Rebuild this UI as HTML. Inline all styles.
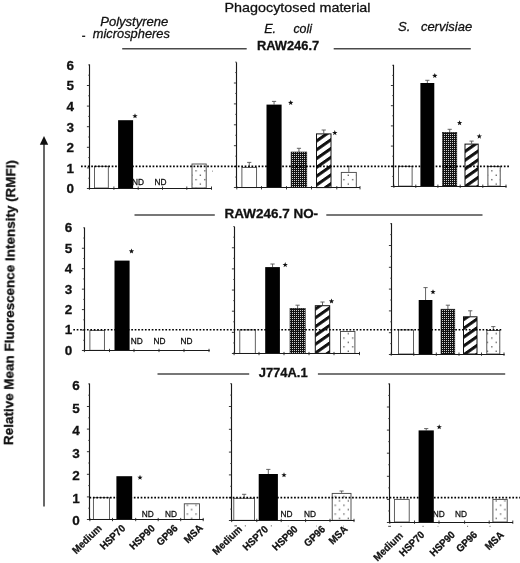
<!DOCTYPE html>
<html><head><meta charset="utf-8"><title>Figure</title>
<style>html,body{margin:0;padding:0;background:#fff;}svg{display:block;}text{font-family:"Liberation Sans",sans-serif;fill:#111;stroke:#111;stroke-width:0.28px;}</style>
</head><body>
<svg width="520" height="563" viewBox="0 0 520 563">
<defs>
<pattern id="p90" width="2" height="2" patternUnits="userSpaceOnUse"><rect width="2" height="2" fill="#111"/><rect x="0" y="0" width="1" height="1" fill="#d0d0d0" shape-rendering="crispEdges"/></pattern>
<pattern id="pgp" width="8" height="8.8" patternUnits="userSpaceOnUse" patternTransform="skewY(-35)"><rect width="8" height="8.8" fill="#fff"/><rect y="0" width="8" height="3.7" fill="#111"/></pattern>
<pattern id="pmsa" width="8.7" height="8.8" patternUnits="userSpaceOnUse"><rect width="8.7" height="8.8" fill="#fff"/><rect x="4" y="3" width="1.3" height="1.3" fill="#555"/><rect x="-0.35" y="7.4" width="1.3" height="1.3" fill="#555"/><rect x="8.35" y="7.4" width="1.3" height="1.3" fill="#555"/></pattern>
</defs>
<rect width="520" height="563" fill="#fff"/>
<g opacity="0.999">
<text x="224.5" y="12.1" font-size="13.2" font-weight="normal" font-style="normal" text-anchor="start" textLength="146" lengthAdjust="spacingAndGlyphs" >Phagocytosed material</text>
<text x="100.2" y="26.2" font-size="13" font-weight="normal" font-style="italic" text-anchor="start" textLength="68.1" lengthAdjust="spacingAndGlyphs" >Polystyrene</text>
<text x="92.8" y="38.3" font-size="13" font-weight="normal" font-style="italic" text-anchor="start" textLength="77.1" lengthAdjust="spacingAndGlyphs" >microspheres</text>
<rect x="82.1" y="35.6" width="3.1" height="1.4" fill="#222"/>
<text x="264.2" y="32.5" font-size="12.6" font-weight="normal" font-style="italic" text-anchor="start" >E.</text>
<text x="293.4" y="32.5" font-size="12.6" font-weight="normal" font-style="italic" text-anchor="start" textLength="18.6" lengthAdjust="spacingAndGlyphs" >coli</text>
<text x="398.1" y="30.8" font-size="13" font-weight="normal" font-style="italic" text-anchor="start" >S.</text>
<text x="420.9" y="30.8" font-size="13" font-weight="normal" font-style="italic" text-anchor="start" textLength="51.3" lengthAdjust="spacingAndGlyphs" >cervisiae</text>
<line x1="122.2" y1="48.85" x2="246.7" y2="48.85" stroke="#4a4a4a" stroke-width="1.5" />
<line x1="333.7" y1="48.85" x2="470.8" y2="48.85" stroke="#4a4a4a" stroke-width="1.5" />
<text x="256.9" y="49.8" font-size="12.5" font-weight="bold" font-style="normal" text-anchor="start" textLength="62.3" lengthAdjust="spacingAndGlyphs" >RAW246.7</text>
<line x1="134.5" y1="214.9" x2="214.8" y2="214.9" stroke="#4a4a4a" stroke-width="1.5" />
<line x1="326.3" y1="214.9" x2="482.5" y2="214.9" stroke="#4a4a4a" stroke-width="1.5" />
<text x="224.6" y="217.5" font-size="12.3" font-weight="bold" font-style="normal" text-anchor="start" textLength="93.5" lengthAdjust="spacingAndGlyphs" >RAW246.7 NO-</text>
<line x1="157.5" y1="374" x2="249.2" y2="374" stroke="#4a4a4a" stroke-width="1.5" />
<line x1="317.9" y1="374" x2="505.2" y2="374" stroke="#4a4a4a" stroke-width="1.5" />
<text x="258.7" y="377" font-size="12.3" font-weight="bold" font-style="normal" text-anchor="start" textLength="49" lengthAdjust="spacingAndGlyphs" >J774A.1</text>
<text transform="translate(12.9,445.1) rotate(-89.5)" font-size="12.6" font-weight="bold" textLength="285" lengthAdjust="spacingAndGlyphs">Relative Mean Fluorescence Intensity (RMFI)</text>
<line x1="44" y1="506.4" x2="44" y2="143" stroke="#686868" stroke-width="2" />
<polygon points="44,136 39.8,144.8 48.2,144.8" fill="#111"/>
<text x="74.1" y="193.15" font-size="13.5" font-weight="bold" font-style="normal" text-anchor="end" stroke="#111" stroke-width="0.2">0</text>
<text x="74.1" y="172.6" font-size="13.5" font-weight="bold" font-style="normal" text-anchor="end" stroke="#111" stroke-width="0.2">1</text>
<text x="74.1" y="152.05" font-size="13.5" font-weight="bold" font-style="normal" text-anchor="end" stroke="#111" stroke-width="0.2">2</text>
<text x="74.1" y="131.5" font-size="13.5" font-weight="bold" font-style="normal" text-anchor="end" stroke="#111" stroke-width="0.2">3</text>
<text x="74.1" y="110.95" font-size="13.5" font-weight="bold" font-style="normal" text-anchor="end" stroke="#111" stroke-width="0.2">4</text>
<text x="74.1" y="90.4" font-size="13.5" font-weight="bold" font-style="normal" text-anchor="end" stroke="#111" stroke-width="0.2">5</text>
<text x="74.1" y="69.85" font-size="13.5" font-weight="bold" font-style="normal" text-anchor="end" stroke="#111" stroke-width="0.2">6</text>
<rect x="94.50" y="166.30" width="13.80" height="21.70" fill="#fff" stroke="#444" stroke-width="0.85"/>
<rect x="118.10" y="120.20" width="15.00" height="67.80" fill="#000"/>
<rect x="192.00" y="164.00" width="14.20" height="24.00" fill="url(#pmsa)" stroke="#444" stroke-width="0.9"/>
<line x1="89.5" y1="64.4" x2="89.5" y2="189.0" stroke="#1a1a1a" stroke-width="1.15" />
<line x1="89.0" y1="188.5" x2="212" y2="188.5" stroke="#1a1a1a" stroke-width="1.15" />
<line x1="86.9" y1="188.5" x2="89.5" y2="188.5" stroke="#222" stroke-width="0.9" />
<line x1="86.9" y1="167.9" x2="89.5" y2="167.9" stroke="#222" stroke-width="0.9" />
<line x1="86.9" y1="147.3" x2="89.5" y2="147.3" stroke="#222" stroke-width="0.9" />
<line x1="86.9" y1="126.69999999999999" x2="89.5" y2="126.69999999999999" stroke="#222" stroke-width="0.9" />
<line x1="86.9" y1="106.1" x2="89.5" y2="106.1" stroke="#222" stroke-width="0.9" />
<line x1="86.9" y1="85.5" x2="89.5" y2="85.5" stroke="#222" stroke-width="0.9" />
<line x1="88.3" y1="64.89999999999999" x2="89.5" y2="64.89999999999999" stroke="#222" stroke-width="0.9" />
<line x1="88.1" y1="178.2" x2="89.5" y2="178.2" stroke="#444" stroke-width="0.8" />
<line x1="88.1" y1="157.6" x2="89.5" y2="157.6" stroke="#444" stroke-width="0.8" />
<line x1="88.1" y1="137.0" x2="89.5" y2="137.0" stroke="#444" stroke-width="0.8" />
<line x1="88.1" y1="116.39999999999999" x2="89.5" y2="116.39999999999999" stroke="#444" stroke-width="0.8" />
<line x1="88.1" y1="95.8" x2="89.5" y2="95.8" stroke="#444" stroke-width="0.8" />
<line x1="88.1" y1="75.19999999999999" x2="89.5" y2="75.19999999999999" stroke="#444" stroke-width="0.8" />
<line x1="89.4" y1="186.5" x2="89.4" y2="189.8" stroke="#222" stroke-width="0.9" />
<line x1="113.9" y1="186.5" x2="113.9" y2="189.8" stroke="#222" stroke-width="0.9" />
<line x1="138.2" y1="186.5" x2="138.2" y2="189.8" stroke="#222" stroke-width="0.9" />
<line x1="162.5" y1="186.5" x2="162.5" y2="189.8" stroke="#222" stroke-width="0.9" />
<line x1="186.8" y1="186.5" x2="186.8" y2="189.8" stroke="#222" stroke-width="0.9" />
<line x1="211.5" y1="186.5" x2="211.5" y2="189.8" stroke="#222" stroke-width="0.9" />
<text x="132.0" y="184.5" font-size="8.6" font-weight="normal" font-style="normal" text-anchor="start" textLength="12" lengthAdjust="spacingAndGlyphs" >ND</text>
<text x="154.5" y="184.5" font-size="8.6" font-weight="normal" font-style="normal" text-anchor="start" textLength="12" lengthAdjust="spacingAndGlyphs" >ND</text>
<polygon points="135.00,113.30 135.68,115.17 137.66,115.23 136.09,116.46 136.65,118.37 135.00,117.25 133.35,118.37 133.91,116.46 132.34,115.23 134.32,115.17" fill="#111"/>
<line x1="249.25" y1="166.9" x2="249.25" y2="162.4" stroke="#555" stroke-width="0.9" />
<line x1="247.15" y1="162.4" x2="251.35" y2="162.4" stroke="#555" stroke-width="0.9" />
<rect x="241.90" y="167.40" width="14.70" height="20.20" fill="#fff" stroke="#444" stroke-width="0.85"/>
<line x1="274.05" y1="104.6" x2="274.05" y2="101.4" stroke="#555" stroke-width="0.9" />
<line x1="271.95" y1="101.4" x2="276.15000000000003" y2="101.4" stroke="#555" stroke-width="0.9" />
<rect x="266.50" y="104.60" width="15.10" height="83.00" fill="#000"/>
<line x1="298.95000000000005" y1="152" x2="298.95000000000005" y2="148.3" stroke="#555" stroke-width="0.9" />
<line x1="296.85" y1="148.3" x2="301.05000000000007" y2="148.3" stroke="#555" stroke-width="0.9" />
<rect x="291.10" y="152.00" width="15.70" height="35.60" fill="url(#p90)" stroke="#111" stroke-width="0.6"/>
<line x1="323.75" y1="133.4" x2="323.75" y2="130" stroke="#555" stroke-width="0.9" />
<line x1="321.65" y1="130" x2="325.85" y2="130" stroke="#555" stroke-width="0.9" />
<rect x="316.50" y="133.90" width="14.50" height="53.70" fill="url(#pgp)" stroke="#111" stroke-width="1"/>
<line x1="348.8" y1="171.9" x2="348.8" y2="166.2" stroke="#555" stroke-width="0.9" />
<line x1="346.7" y1="166.2" x2="350.90000000000003" y2="166.2" stroke="#555" stroke-width="0.9" />
<rect x="341.30" y="172.40" width="15.00" height="15.20" fill="url(#pmsa)" stroke="#444" stroke-width="0.9"/>
<line x1="236.5" y1="62.3" x2="236.5" y2="188.0" stroke="#1a1a1a" stroke-width="1.15" />
<line x1="236.0" y1="187.5" x2="360" y2="187.5" stroke="#1a1a1a" stroke-width="1.15" />
<line x1="233.9" y1="187.5" x2="236.5" y2="187.5" stroke="#222" stroke-width="0.9" />
<line x1="233.9" y1="166.6" x2="236.5" y2="166.6" stroke="#222" stroke-width="0.9" />
<line x1="233.9" y1="145.7" x2="236.5" y2="145.7" stroke="#222" stroke-width="0.9" />
<line x1="233.9" y1="124.80000000000001" x2="236.5" y2="124.80000000000001" stroke="#222" stroke-width="0.9" />
<line x1="233.9" y1="103.9" x2="236.5" y2="103.9" stroke="#222" stroke-width="0.9" />
<line x1="233.9" y1="83.0" x2="236.5" y2="83.0" stroke="#222" stroke-width="0.9" />
<line x1="235.3" y1="62.10000000000001" x2="236.5" y2="62.10000000000001" stroke="#222" stroke-width="0.9" />
<line x1="235.1" y1="177.05" x2="236.5" y2="177.05" stroke="#444" stroke-width="0.8" />
<line x1="235.1" y1="156.15" x2="236.5" y2="156.15" stroke="#444" stroke-width="0.8" />
<line x1="235.1" y1="135.25" x2="236.5" y2="135.25" stroke="#444" stroke-width="0.8" />
<line x1="235.1" y1="114.35000000000001" x2="236.5" y2="114.35000000000001" stroke="#444" stroke-width="0.8" />
<line x1="235.1" y1="93.45" x2="236.5" y2="93.45" stroke="#444" stroke-width="0.8" />
<line x1="235.1" y1="72.55000000000001" x2="236.5" y2="72.55000000000001" stroke="#444" stroke-width="0.8" />
<line x1="236.8" y1="186.1" x2="236.8" y2="189.4" stroke="#222" stroke-width="0.9" />
<line x1="261.5" y1="186.1" x2="261.5" y2="189.4" stroke="#222" stroke-width="0.9" />
<line x1="286.5" y1="186.1" x2="286.5" y2="189.4" stroke="#222" stroke-width="0.9" />
<line x1="311.5" y1="186.1" x2="311.5" y2="189.4" stroke="#222" stroke-width="0.9" />
<line x1="336.8" y1="186.1" x2="336.8" y2="189.4" stroke="#222" stroke-width="0.9" />
<line x1="360" y1="186.1" x2="360" y2="189.4" stroke="#222" stroke-width="0.9" />
<polygon points="290.70,100.00 291.38,101.87 293.36,101.93 291.79,103.16 292.35,105.07 290.70,103.95 289.05,105.07 289.61,103.16 288.04,101.93 290.02,101.87" fill="#111"/>
<polygon points="334.80,130.10 335.48,131.97 337.46,132.03 335.89,133.26 336.45,135.17 334.80,134.05 333.15,135.17 333.71,133.26 332.14,132.03 334.12,131.97" fill="#111"/>
<rect x="398.50" y="166.30" width="13.60" height="19.80" fill="#fff" stroke="#444" stroke-width="0.85"/>
<line x1="427.35" y1="83" x2="427.35" y2="80.3" stroke="#555" stroke-width="0.9" />
<line x1="425.25" y1="80.3" x2="429.45000000000005" y2="80.3" stroke="#555" stroke-width="0.9" />
<rect x="420.40" y="83.00" width="13.90" height="103.10" fill="#000"/>
<line x1="449.70000000000005" y1="132.4" x2="449.70000000000005" y2="129.3" stroke="#555" stroke-width="0.9" />
<line x1="447.6" y1="129.3" x2="451.80000000000007" y2="129.3" stroke="#555" stroke-width="0.9" />
<rect x="442.60" y="132.40" width="14.20" height="53.70" fill="url(#p90)" stroke="#111" stroke-width="0.6"/>
<line x1="471.6" y1="143.6" x2="471.6" y2="141.1" stroke="#555" stroke-width="0.9" />
<line x1="469.5" y1="141.1" x2="473.70000000000005" y2="141.1" stroke="#555" stroke-width="0.9" />
<rect x="465.00" y="144.10" width="13.20" height="42.00" fill="url(#pgp)" stroke="#111" stroke-width="1"/>
<rect x="487.90" y="166.40" width="12.30" height="19.70" fill="url(#pmsa)" stroke="#444" stroke-width="0.9"/>
<line x1="393.5" y1="64.8" x2="393.5" y2="187.0" stroke="#1a1a1a" stroke-width="1.15" />
<line x1="393.0" y1="186.5" x2="506.5" y2="186.5" stroke="#1a1a1a" stroke-width="1.15" />
<line x1="390.9" y1="186.5" x2="393.5" y2="186.5" stroke="#222" stroke-width="0.9" />
<line x1="390.9" y1="166.3" x2="393.5" y2="166.3" stroke="#222" stroke-width="0.9" />
<line x1="390.9" y1="146.1" x2="393.5" y2="146.1" stroke="#222" stroke-width="0.9" />
<line x1="390.9" y1="125.9" x2="393.5" y2="125.9" stroke="#222" stroke-width="0.9" />
<line x1="390.9" y1="105.7" x2="393.5" y2="105.7" stroke="#222" stroke-width="0.9" />
<line x1="390.9" y1="85.5" x2="393.5" y2="85.5" stroke="#222" stroke-width="0.9" />
<line x1="392.3" y1="65.30000000000001" x2="393.5" y2="65.30000000000001" stroke="#222" stroke-width="0.9" />
<line x1="392.1" y1="176.4" x2="393.5" y2="176.4" stroke="#444" stroke-width="0.8" />
<line x1="392.1" y1="156.2" x2="393.5" y2="156.2" stroke="#444" stroke-width="0.8" />
<line x1="392.1" y1="136.0" x2="393.5" y2="136.0" stroke="#444" stroke-width="0.8" />
<line x1="392.1" y1="115.8" x2="393.5" y2="115.8" stroke="#444" stroke-width="0.8" />
<line x1="392.1" y1="95.60000000000001" x2="393.5" y2="95.60000000000001" stroke="#444" stroke-width="0.8" />
<line x1="392.1" y1="75.4" x2="393.5" y2="75.4" stroke="#444" stroke-width="0.8" />
<line x1="393.9" y1="184.6" x2="393.9" y2="187.9" stroke="#222" stroke-width="0.9" />
<line x1="415.8" y1="184.6" x2="415.8" y2="187.9" stroke="#222" stroke-width="0.9" />
<line x1="437.9" y1="184.6" x2="437.9" y2="187.9" stroke="#222" stroke-width="0.9" />
<line x1="460.2" y1="184.6" x2="460.2" y2="187.9" stroke="#222" stroke-width="0.9" />
<line x1="482.8" y1="184.6" x2="482.8" y2="187.9" stroke="#222" stroke-width="0.9" />
<line x1="506" y1="184.6" x2="506" y2="187.9" stroke="#222" stroke-width="0.9" />
<polygon points="434.80,73.00 435.48,74.87 437.46,74.93 435.89,76.16 436.45,78.07 434.80,76.95 433.15,78.07 433.71,76.16 432.14,74.93 434.12,74.87" fill="#111"/>
<polygon points="459.60,120.20 460.28,122.07 462.26,122.13 460.69,123.36 461.25,125.27 459.60,124.15 457.95,125.27 458.51,123.36 456.94,122.13 458.92,122.07" fill="#111"/>
<polygon points="479.30,133.60 479.98,135.47 481.96,135.53 480.39,136.76 480.95,138.67 479.30,137.55 477.65,138.67 478.21,136.76 476.64,135.53 478.62,135.47" fill="#111"/>
<line x1="81" y1="166.35" x2="510.6" y2="166.35" stroke="#000" stroke-width="1.6" stroke-dasharray="1.7 1.71"/>
<text x="72.3" y="354.75" font-size="13.5" font-weight="bold" font-style="normal" text-anchor="end" stroke="#111" stroke-width="0.2">0</text>
<text x="72.3" y="334.35" font-size="13.5" font-weight="bold" font-style="normal" text-anchor="end" stroke="#111" stroke-width="0.2">1</text>
<text x="72.3" y="313.95" font-size="13.5" font-weight="bold" font-style="normal" text-anchor="end" stroke="#111" stroke-width="0.2">2</text>
<text x="72.3" y="293.55" font-size="13.5" font-weight="bold" font-style="normal" text-anchor="end" stroke="#111" stroke-width="0.2">3</text>
<text x="72.3" y="273.15" font-size="13.5" font-weight="bold" font-style="normal" text-anchor="end" stroke="#111" stroke-width="0.2">4</text>
<text x="72.3" y="252.74999999999997" font-size="13.5" font-weight="bold" font-style="normal" text-anchor="end" stroke="#111" stroke-width="0.2">5</text>
<text x="72.3" y="232.35" font-size="13.5" font-weight="bold" font-style="normal" text-anchor="end" stroke="#111" stroke-width="0.2">6</text>
<rect x="89.90" y="330.40" width="14.50" height="19.90" fill="#fff" stroke="#444" stroke-width="0.85"/>
<rect x="114.50" y="260.60" width="15.10" height="89.70" fill="#000"/>
<line x1="84.5" y1="227.5" x2="84.5" y2="351.0" stroke="#1a1a1a" stroke-width="1.15" />
<line x1="84.0" y1="350.5" x2="209.7" y2="350.5" stroke="#1a1a1a" stroke-width="1.15" />
<line x1="81.9" y1="350.5" x2="84.5" y2="350.5" stroke="#222" stroke-width="0.9" />
<line x1="81.9" y1="330.05" x2="84.5" y2="330.05" stroke="#222" stroke-width="0.9" />
<line x1="81.9" y1="309.6" x2="84.5" y2="309.6" stroke="#222" stroke-width="0.9" />
<line x1="81.9" y1="289.15" x2="84.5" y2="289.15" stroke="#222" stroke-width="0.9" />
<line x1="81.9" y1="268.7" x2="84.5" y2="268.7" stroke="#222" stroke-width="0.9" />
<line x1="81.9" y1="248.25" x2="84.5" y2="248.25" stroke="#222" stroke-width="0.9" />
<line x1="83.3" y1="227.8" x2="84.5" y2="227.8" stroke="#222" stroke-width="0.9" />
<line x1="83.1" y1="340.275" x2="84.5" y2="340.275" stroke="#444" stroke-width="0.8" />
<line x1="83.1" y1="319.825" x2="84.5" y2="319.825" stroke="#444" stroke-width="0.8" />
<line x1="83.1" y1="299.375" x2="84.5" y2="299.375" stroke="#444" stroke-width="0.8" />
<line x1="83.1" y1="278.925" x2="84.5" y2="278.925" stroke="#444" stroke-width="0.8" />
<line x1="83.1" y1="258.475" x2="84.5" y2="258.475" stroke="#444" stroke-width="0.8" />
<line x1="83.1" y1="238.025" x2="84.5" y2="238.025" stroke="#444" stroke-width="0.8" />
<line x1="84.4" y1="348.8" x2="84.4" y2="352.1" stroke="#222" stroke-width="0.9" />
<line x1="109.5" y1="348.8" x2="109.5" y2="352.1" stroke="#222" stroke-width="0.9" />
<line x1="134" y1="348.8" x2="134" y2="352.1" stroke="#222" stroke-width="0.9" />
<line x1="159" y1="348.8" x2="159" y2="352.1" stroke="#222" stroke-width="0.9" />
<line x1="184" y1="348.8" x2="184" y2="352.1" stroke="#222" stroke-width="0.9" />
<line x1="209" y1="348.8" x2="209" y2="352.1" stroke="#222" stroke-width="0.9" />
<text x="130.8" y="344" font-size="8.6" font-weight="normal" font-style="normal" text-anchor="start" textLength="12" lengthAdjust="spacingAndGlyphs" >ND</text>
<text x="153.5" y="344" font-size="8.6" font-weight="normal" font-style="normal" text-anchor="start" textLength="12" lengthAdjust="spacingAndGlyphs" >ND</text>
<text x="180.5" y="344" font-size="8.6" font-weight="normal" font-style="normal" text-anchor="start" textLength="12" lengthAdjust="spacingAndGlyphs" >ND</text>
<polygon points="131.50,248.50 132.18,250.37 134.16,250.43 132.59,251.66 133.15,253.57 131.50,252.45 129.85,253.57 130.41,251.66 128.84,250.43 130.82,250.37" fill="#111"/>
<rect x="239.80" y="329.90" width="15.50" height="23.50" fill="#fff" stroke="#444" stroke-width="0.85"/>
<line x1="272.54999999999995" y1="267.1" x2="272.54999999999995" y2="264" stroke="#555" stroke-width="0.9" />
<line x1="270.44999999999993" y1="264" x2="274.65" y2="264" stroke="#555" stroke-width="0.9" />
<rect x="265.20" y="267.10" width="14.70" height="86.30" fill="#000"/>
<line x1="297.6" y1="308.3" x2="297.6" y2="305.2" stroke="#555" stroke-width="0.9" />
<line x1="295.5" y1="305.2" x2="299.70000000000005" y2="305.2" stroke="#555" stroke-width="0.9" />
<rect x="290.00" y="308.30" width="15.20" height="45.10" fill="url(#p90)" stroke="#111" stroke-width="0.6"/>
<line x1="322.5" y1="305.2" x2="322.5" y2="302" stroke="#555" stroke-width="0.9" />
<line x1="320.4" y1="302" x2="324.6" y2="302" stroke="#555" stroke-width="0.9" />
<rect x="315.30" y="305.70" width="14.40" height="47.70" fill="url(#pgp)" stroke="#111" stroke-width="1"/>
<rect x="340.50" y="331.50" width="14.40" height="21.90" fill="url(#pmsa)" stroke="#444" stroke-width="0.9"/>
<line x1="234.5" y1="226.6" x2="234.5" y2="354.0" stroke="#1a1a1a" stroke-width="1.15" />
<line x1="234.0" y1="353.5" x2="360" y2="353.5" stroke="#1a1a1a" stroke-width="1.15" />
<line x1="231.9" y1="353.5" x2="234.5" y2="353.5" stroke="#222" stroke-width="0.9" />
<line x1="231.9" y1="332.35" x2="234.5" y2="332.35" stroke="#222" stroke-width="0.9" />
<line x1="231.9" y1="311.2" x2="234.5" y2="311.2" stroke="#222" stroke-width="0.9" />
<line x1="231.9" y1="290.05" x2="234.5" y2="290.05" stroke="#222" stroke-width="0.9" />
<line x1="231.9" y1="268.9" x2="234.5" y2="268.9" stroke="#222" stroke-width="0.9" />
<line x1="231.9" y1="247.75" x2="234.5" y2="247.75" stroke="#222" stroke-width="0.9" />
<line x1="233.3" y1="226.60000000000002" x2="234.5" y2="226.60000000000002" stroke="#222" stroke-width="0.9" />
<line x1="233.1" y1="342.925" x2="234.5" y2="342.925" stroke="#444" stroke-width="0.8" />
<line x1="233.1" y1="321.775" x2="234.5" y2="321.775" stroke="#444" stroke-width="0.8" />
<line x1="233.1" y1="300.625" x2="234.5" y2="300.625" stroke="#444" stroke-width="0.8" />
<line x1="233.1" y1="279.475" x2="234.5" y2="279.475" stroke="#444" stroke-width="0.8" />
<line x1="233.1" y1="258.325" x2="234.5" y2="258.325" stroke="#444" stroke-width="0.8" />
<line x1="233.1" y1="237.175" x2="234.5" y2="237.175" stroke="#444" stroke-width="0.8" />
<line x1="234.1" y1="351.9" x2="234.1" y2="355.2" stroke="#222" stroke-width="0.9" />
<line x1="259" y1="351.9" x2="259" y2="355.2" stroke="#222" stroke-width="0.9" />
<line x1="284" y1="351.9" x2="284" y2="355.2" stroke="#222" stroke-width="0.9" />
<line x1="309" y1="351.9" x2="309" y2="355.2" stroke="#222" stroke-width="0.9" />
<line x1="334" y1="351.9" x2="334" y2="355.2" stroke="#222" stroke-width="0.9" />
<line x1="359.5" y1="351.9" x2="359.5" y2="355.2" stroke="#222" stroke-width="0.9" />
<polygon points="285.20,262.10 285.88,263.97 287.86,264.03 286.29,265.26 286.85,267.17 285.20,266.05 283.55,267.17 284.11,265.26 282.54,264.03 284.52,263.97" fill="#111"/>
<polygon points="331.50,298.50 332.18,300.37 334.16,300.43 332.59,301.66 333.15,303.57 331.50,302.45 329.85,303.57 330.41,301.66 328.84,300.43 330.82,300.37" fill="#111"/>
<rect x="398.50" y="329.90" width="15.00" height="24.10" fill="#fff" stroke="#444" stroke-width="0.85"/>
<line x1="425.54999999999995" y1="300" x2="425.54999999999995" y2="287.6" stroke="#555" stroke-width="0.9" />
<line x1="423.44999999999993" y1="287.6" x2="427.65" y2="287.6" stroke="#555" stroke-width="0.9" />
<rect x="418.70" y="300.00" width="13.70" height="54.00" fill="#000"/>
<line x1="447.9" y1="309.2" x2="447.9" y2="305.2" stroke="#555" stroke-width="0.9" />
<line x1="445.79999999999995" y1="305.2" x2="450.0" y2="305.2" stroke="#555" stroke-width="0.9" />
<rect x="441.00" y="309.20" width="13.80" height="44.80" fill="url(#p90)" stroke="#111" stroke-width="0.6"/>
<line x1="470.25" y1="316.3" x2="470.25" y2="310.8" stroke="#555" stroke-width="0.9" />
<line x1="468.15" y1="310.8" x2="472.35" y2="310.8" stroke="#555" stroke-width="0.9" />
<rect x="463.50" y="316.80" width="13.50" height="37.20" fill="url(#pgp)" stroke="#111" stroke-width="1"/>
<line x1="493.3" y1="330" x2="493.3" y2="326.6" stroke="#555" stroke-width="0.9" />
<line x1="491.2" y1="326.6" x2="495.40000000000003" y2="326.6" stroke="#555" stroke-width="0.9" />
<rect x="486.80" y="330.50" width="13.00" height="23.50" fill="url(#pmsa)" stroke="#444" stroke-width="0.9"/>
<line x1="391.5" y1="223.2" x2="391.5" y2="355.0" stroke="#1a1a1a" stroke-width="1.15" />
<line x1="391.0" y1="354.5" x2="504.6" y2="354.5" stroke="#1a1a1a" stroke-width="1.15" />
<line x1="388.9" y1="354.5" x2="391.5" y2="354.5" stroke="#222" stroke-width="0.9" />
<line x1="388.9" y1="332.7" x2="391.5" y2="332.7" stroke="#222" stroke-width="0.9" />
<line x1="388.9" y1="310.9" x2="391.5" y2="310.9" stroke="#222" stroke-width="0.9" />
<line x1="388.9" y1="289.1" x2="391.5" y2="289.1" stroke="#222" stroke-width="0.9" />
<line x1="388.9" y1="267.3" x2="391.5" y2="267.3" stroke="#222" stroke-width="0.9" />
<line x1="388.9" y1="245.5" x2="391.5" y2="245.5" stroke="#222" stroke-width="0.9" />
<line x1="390.3" y1="223.7" x2="391.5" y2="223.7" stroke="#222" stroke-width="0.9" />
<line x1="390.1" y1="343.6" x2="391.5" y2="343.6" stroke="#444" stroke-width="0.8" />
<line x1="390.1" y1="321.8" x2="391.5" y2="321.8" stroke="#444" stroke-width="0.8" />
<line x1="390.1" y1="300.0" x2="391.5" y2="300.0" stroke="#444" stroke-width="0.8" />
<line x1="390.1" y1="278.2" x2="391.5" y2="278.2" stroke="#444" stroke-width="0.8" />
<line x1="390.1" y1="256.4" x2="391.5" y2="256.4" stroke="#444" stroke-width="0.8" />
<line x1="390.1" y1="234.6" x2="391.5" y2="234.6" stroke="#444" stroke-width="0.8" />
<line x1="391.2" y1="352.5" x2="391.2" y2="355.8" stroke="#222" stroke-width="0.9" />
<line x1="413.8" y1="352.5" x2="413.8" y2="355.8" stroke="#222" stroke-width="0.9" />
<line x1="436.3" y1="352.5" x2="436.3" y2="355.8" stroke="#222" stroke-width="0.9" />
<line x1="459" y1="352.5" x2="459" y2="355.8" stroke="#222" stroke-width="0.9" />
<line x1="481.5" y1="352.5" x2="481.5" y2="355.8" stroke="#222" stroke-width="0.9" />
<line x1="504" y1="352.5" x2="504" y2="355.8" stroke="#222" stroke-width="0.9" />
<polygon points="433.00,289.20 433.68,291.07 435.66,291.13 434.09,292.36 434.65,294.27 433.00,293.15 431.35,294.27 431.91,292.36 430.34,291.13 432.32,291.07" fill="#111"/>
<line x1="73.3" y1="329.7" x2="502.5" y2="329.7" stroke="#000" stroke-width="1.6" stroke-dasharray="1.7 1.71"/>
<text x="79.7" y="525.35" font-size="13.5" font-weight="bold" font-style="normal" text-anchor="end" stroke="#111" stroke-width="0.2">0</text>
<text x="79.7" y="502.85" font-size="13.5" font-weight="bold" font-style="normal" text-anchor="end" stroke="#111" stroke-width="0.2">1</text>
<text x="79.7" y="480.35" font-size="13.5" font-weight="bold" font-style="normal" text-anchor="end" stroke="#111" stroke-width="0.2">2</text>
<text x="79.7" y="457.85" font-size="13.5" font-weight="bold" font-style="normal" text-anchor="end" stroke="#111" stroke-width="0.2">3</text>
<text x="79.7" y="435.35" font-size="13.5" font-weight="bold" font-style="normal" text-anchor="end" stroke="#111" stroke-width="0.2">4</text>
<text x="79.7" y="412.85" font-size="13.5" font-weight="bold" font-style="normal" text-anchor="end" stroke="#111" stroke-width="0.2">5</text>
<text x="79.7" y="390.35" font-size="13.5" font-weight="bold" font-style="normal" text-anchor="end" stroke="#111" stroke-width="0.2">6</text>
<rect x="93.40" y="497.70" width="16.10" height="21.70" fill="#fff" stroke="#444" stroke-width="0.85"/>
<rect x="116.40" y="476.20" width="15.80" height="43.20" fill="#000"/>
<rect x="184.30" y="503.80" width="15.20" height="15.60" fill="url(#pmsa)" stroke="#444" stroke-width="0.9"/>
<line x1="89.5" y1="383.5" x2="89.5" y2="520.0" stroke="#1a1a1a" stroke-width="1.15" />
<line x1="89.0" y1="519.5" x2="203.7" y2="519.5" stroke="#1a1a1a" stroke-width="1.15" />
<line x1="86.9" y1="519.5" x2="89.5" y2="519.5" stroke="#222" stroke-width="0.9" />
<line x1="86.9" y1="496.9" x2="89.5" y2="496.9" stroke="#222" stroke-width="0.9" />
<line x1="86.9" y1="474.3" x2="89.5" y2="474.3" stroke="#222" stroke-width="0.9" />
<line x1="86.9" y1="451.7" x2="89.5" y2="451.7" stroke="#222" stroke-width="0.9" />
<line x1="86.9" y1="429.1" x2="89.5" y2="429.1" stroke="#222" stroke-width="0.9" />
<line x1="86.9" y1="406.5" x2="89.5" y2="406.5" stroke="#222" stroke-width="0.9" />
<line x1="88.3" y1="383.9" x2="89.5" y2="383.9" stroke="#222" stroke-width="0.9" />
<line x1="88.1" y1="508.2" x2="89.5" y2="508.2" stroke="#444" stroke-width="0.8" />
<line x1="88.1" y1="485.6" x2="89.5" y2="485.6" stroke="#444" stroke-width="0.8" />
<line x1="88.1" y1="463.0" x2="89.5" y2="463.0" stroke="#444" stroke-width="0.8" />
<line x1="88.1" y1="440.4" x2="89.5" y2="440.4" stroke="#444" stroke-width="0.8" />
<line x1="88.1" y1="417.8" x2="89.5" y2="417.8" stroke="#444" stroke-width="0.8" />
<line x1="88.1" y1="395.2" x2="89.5" y2="395.2" stroke="#444" stroke-width="0.8" />
<line x1="89.9" y1="517.9" x2="89.9" y2="521.1999999999999" stroke="#222" stroke-width="0.9" />
<line x1="112.5" y1="517.9" x2="112.5" y2="521.1999999999999" stroke="#222" stroke-width="0.9" />
<line x1="135.7" y1="517.9" x2="135.7" y2="521.1999999999999" stroke="#222" stroke-width="0.9" />
<line x1="158.2" y1="517.9" x2="158.2" y2="521.1999999999999" stroke="#222" stroke-width="0.9" />
<line x1="180.7" y1="517.9" x2="180.7" y2="521.1999999999999" stroke="#222" stroke-width="0.9" />
<line x1="203.2" y1="517.9" x2="203.2" y2="521.1999999999999" stroke="#222" stroke-width="0.9" />
<text x="141.8" y="517.3" font-size="8.6" font-weight="normal" font-style="normal" text-anchor="start" textLength="12" lengthAdjust="spacingAndGlyphs" >ND</text>
<text x="164.9" y="517.3" font-size="8.6" font-weight="normal" font-style="normal" text-anchor="start" textLength="12" lengthAdjust="spacingAndGlyphs" >ND</text>
<polygon points="140.00,474.80 140.68,476.67 142.66,476.73 141.09,477.96 141.65,479.87 140.00,478.75 138.35,479.87 138.91,477.96 137.34,476.73 139.32,476.67" fill="#111"/>
<text transform="translate(102.5,529) rotate(-44) scale(0.94,1)" font-size="10.3" font-weight="bold" text-anchor="end" stroke="#111" stroke-width="0.15">Medium</text>
<text transform="translate(126,529) rotate(-44) scale(0.94,1)" font-size="10.3" font-weight="bold" text-anchor="end" stroke="#111" stroke-width="0.15">HSP70</text>
<text transform="translate(155.6,529) rotate(-44) scale(0.94,1)" font-size="10.3" font-weight="bold" text-anchor="end" stroke="#111" stroke-width="0.15">HSP90</text>
<text transform="translate(178.3,529) rotate(-44) scale(0.94,1)" font-size="10.3" font-weight="bold" text-anchor="end" stroke="#111" stroke-width="0.15">GP96</text>
<text transform="translate(203.4,528.7) rotate(-44) scale(0.94,1)" font-size="10.3" font-weight="bold" text-anchor="end" stroke="#111" stroke-width="0.15">MSA</text>
<line x1="244.15" y1="497.8" x2="244.15" y2="494.3" stroke="#555" stroke-width="0.9" />
<line x1="242.05" y1="494.3" x2="246.25" y2="494.3" stroke="#555" stroke-width="0.9" />
<rect x="233.80" y="498.30" width="20.70" height="22.00" fill="#fff" stroke="#444" stroke-width="0.85"/>
<line x1="268.29999999999995" y1="474" x2="268.29999999999995" y2="469.4" stroke="#555" stroke-width="0.9" />
<line x1="266.19999999999993" y1="469.4" x2="270.4" y2="469.4" stroke="#555" stroke-width="0.9" />
<rect x="258.70" y="474.00" width="19.20" height="46.30" fill="#000"/>
<line x1="341.6" y1="492.9" x2="341.6" y2="491" stroke="#555" stroke-width="0.9" />
<line x1="339.5" y1="491" x2="343.70000000000005" y2="491" stroke="#555" stroke-width="0.9" />
<rect x="332.20" y="493.40" width="18.80" height="26.90" fill="url(#pmsa)" stroke="#444" stroke-width="0.9"/>
<line x1="231.5" y1="383.5" x2="231.5" y2="521.0" stroke="#1a1a1a" stroke-width="1.15" />
<line x1="231.0" y1="520.5" x2="354.4" y2="520.5" stroke="#1a1a1a" stroke-width="1.15" />
<line x1="228.9" y1="520.5" x2="231.5" y2="520.5" stroke="#222" stroke-width="0.9" />
<line x1="228.9" y1="497.7" x2="231.5" y2="497.7" stroke="#222" stroke-width="0.9" />
<line x1="228.9" y1="474.9" x2="231.5" y2="474.9" stroke="#222" stroke-width="0.9" />
<line x1="228.9" y1="452.1" x2="231.5" y2="452.1" stroke="#222" stroke-width="0.9" />
<line x1="228.9" y1="429.3" x2="231.5" y2="429.3" stroke="#222" stroke-width="0.9" />
<line x1="228.9" y1="406.5" x2="231.5" y2="406.5" stroke="#222" stroke-width="0.9" />
<line x1="230.3" y1="383.7" x2="231.5" y2="383.7" stroke="#222" stroke-width="0.9" />
<line x1="230.1" y1="509.1" x2="231.5" y2="509.1" stroke="#444" stroke-width="0.8" />
<line x1="230.1" y1="486.3" x2="231.5" y2="486.3" stroke="#444" stroke-width="0.8" />
<line x1="230.1" y1="463.5" x2="231.5" y2="463.5" stroke="#444" stroke-width="0.8" />
<line x1="230.1" y1="440.7" x2="231.5" y2="440.7" stroke="#444" stroke-width="0.8" />
<line x1="230.1" y1="417.9" x2="231.5" y2="417.9" stroke="#444" stroke-width="0.8" />
<line x1="230.1" y1="395.1" x2="231.5" y2="395.1" stroke="#444" stroke-width="0.8" />
<line x1="231.7" y1="518.8" x2="231.7" y2="522.0999999999999" stroke="#222" stroke-width="0.9" />
<line x1="256.8" y1="518.8" x2="256.8" y2="522.0999999999999" stroke="#222" stroke-width="0.9" />
<line x1="281.2" y1="518.8" x2="281.2" y2="522.0999999999999" stroke="#222" stroke-width="0.9" />
<line x1="305.6" y1="518.8" x2="305.6" y2="522.0999999999999" stroke="#222" stroke-width="0.9" />
<line x1="330" y1="518.8" x2="330" y2="522.0999999999999" stroke="#222" stroke-width="0.9" />
<line x1="354" y1="518.8" x2="354" y2="522.0999999999999" stroke="#222" stroke-width="0.9" />
<text x="280.5" y="517.3" font-size="8.6" font-weight="normal" font-style="normal" text-anchor="start" textLength="12" lengthAdjust="spacingAndGlyphs" >ND</text>
<text x="304.1" y="517.3" font-size="8.6" font-weight="normal" font-style="normal" text-anchor="start" textLength="12" lengthAdjust="spacingAndGlyphs" >ND</text>
<polygon points="284.00,472.30 284.68,474.17 286.66,474.23 285.09,475.46 285.65,477.37 284.00,476.25 282.35,477.37 282.91,475.46 281.34,474.23 283.32,474.17" fill="#111"/>
<text transform="translate(242.8,530) rotate(-44) scale(0.94,1)" font-size="10.3" font-weight="bold" text-anchor="end" stroke="#111" stroke-width="0.15">Medium</text>
<text transform="translate(268.8,530) rotate(-44) scale(0.94,1)" font-size="10.3" font-weight="bold" text-anchor="end" stroke="#111" stroke-width="0.15">HSP70</text>
<text transform="translate(298.4,530) rotate(-44) scale(0.94,1)" font-size="10.3" font-weight="bold" text-anchor="end" stroke="#111" stroke-width="0.15">HSP90</text>
<text transform="translate(325.8,530) rotate(-44) scale(0.94,1)" font-size="10.3" font-weight="bold" text-anchor="end" stroke="#111" stroke-width="0.15">GP96</text>
<text transform="translate(348.2,530) rotate(-44) scale(0.94,1)" font-size="10.3" font-weight="bold" text-anchor="end" stroke="#111" stroke-width="0.15">MSA</text>
<rect x="394.40" y="499.40" width="14.80" height="22.60" fill="#fff" stroke="#444" stroke-width="0.85"/>
<line x1="426.20000000000005" y1="430.4" x2="426.20000000000005" y2="428.6" stroke="#555" stroke-width="0.9" />
<line x1="424.1" y1="428.6" x2="428.30000000000007" y2="428.6" stroke="#555" stroke-width="0.9" />
<rect x="418.60" y="430.40" width="15.20" height="91.60" fill="#000"/>
<rect x="492.90" y="499.40" width="14.30" height="22.60" fill="url(#pmsa)" stroke="#444" stroke-width="0.9"/>
<line x1="389.5" y1="383.5" x2="389.5" y2="523.0" stroke="#1a1a1a" stroke-width="1.15" />
<line x1="389.0" y1="522.5" x2="513" y2="522.5" stroke="#1a1a1a" stroke-width="1.15" />
<line x1="386.9" y1="522.5" x2="389.5" y2="522.5" stroke="#222" stroke-width="0.9" />
<line x1="386.9" y1="499.4" x2="389.5" y2="499.4" stroke="#222" stroke-width="0.9" />
<line x1="386.9" y1="476.3" x2="389.5" y2="476.3" stroke="#222" stroke-width="0.9" />
<line x1="386.9" y1="453.2" x2="389.5" y2="453.2" stroke="#222" stroke-width="0.9" />
<line x1="386.9" y1="430.1" x2="389.5" y2="430.1" stroke="#222" stroke-width="0.9" />
<line x1="386.9" y1="407.0" x2="389.5" y2="407.0" stroke="#222" stroke-width="0.9" />
<line x1="388.3" y1="383.9" x2="389.5" y2="383.9" stroke="#222" stroke-width="0.9" />
<line x1="388.1" y1="510.95" x2="389.5" y2="510.95" stroke="#444" stroke-width="0.8" />
<line x1="388.1" y1="487.85" x2="389.5" y2="487.85" stroke="#444" stroke-width="0.8" />
<line x1="388.1" y1="464.75" x2="389.5" y2="464.75" stroke="#444" stroke-width="0.8" />
<line x1="388.1" y1="441.65" x2="389.5" y2="441.65" stroke="#444" stroke-width="0.8" />
<line x1="388.1" y1="418.55" x2="389.5" y2="418.55" stroke="#444" stroke-width="0.8" />
<line x1="388.1" y1="395.45" x2="389.5" y2="395.45" stroke="#444" stroke-width="0.8" />
<line x1="389.8" y1="520.5" x2="389.8" y2="523.8" stroke="#222" stroke-width="0.9" />
<line x1="414.5" y1="520.5" x2="414.5" y2="523.8" stroke="#222" stroke-width="0.9" />
<line x1="439" y1="520.5" x2="439" y2="523.8" stroke="#222" stroke-width="0.9" />
<line x1="464.6" y1="520.5" x2="464.6" y2="523.8" stroke="#222" stroke-width="0.9" />
<line x1="489.2" y1="520.5" x2="489.2" y2="523.8" stroke="#222" stroke-width="0.9" />
<line x1="512.8" y1="520.5" x2="512.8" y2="523.8" stroke="#222" stroke-width="0.9" />
<text x="432.8" y="517.3" font-size="8.6" font-weight="normal" font-style="normal" text-anchor="start" textLength="12" lengthAdjust="spacingAndGlyphs" >ND</text>
<text x="454.9" y="517.3" font-size="8.6" font-weight="normal" font-style="normal" text-anchor="start" textLength="12" lengthAdjust="spacingAndGlyphs" >ND</text>
<polygon points="439.20,424.30 439.88,426.17 441.86,426.23 440.29,427.46 440.85,429.37 439.20,428.25 437.55,429.37 438.11,427.46 436.54,426.23 438.52,426.17" fill="#111"/>
<text transform="translate(403.7,536.3) rotate(-44) scale(0.94,1)" font-size="10.3" font-weight="bold" text-anchor="end" stroke="#111" stroke-width="0.15">Medium</text>
<text transform="translate(425.2,535.6) rotate(-44) scale(0.94,1)" font-size="10.3" font-weight="bold" text-anchor="end" stroke="#111" stroke-width="0.15">HSP70</text>
<text transform="translate(455.7,535.6) rotate(-44) scale(0.94,1)" font-size="10.3" font-weight="bold" text-anchor="end" stroke="#111" stroke-width="0.15">HSP90</text>
<text transform="translate(478,535.6) rotate(-44) scale(0.94,1)" font-size="10.3" font-weight="bold" text-anchor="end" stroke="#111" stroke-width="0.15">GP96</text>
<text transform="translate(504.4,535.6) rotate(-44) scale(0.94,1)" font-size="10.3" font-weight="bold" text-anchor="end" stroke="#111" stroke-width="0.15">MSA</text>
<line x1="89.5" y1="497.6" x2="520" y2="497.6" stroke="#000" stroke-width="1.6" stroke-dasharray="1.7 1.71"/>
<rect x="234.4" y="525.3" width="2.6" height="1.1" fill="#555"/>
<rect x="244.8" y="525.3" width="1.1" height="1.1" fill="#666"/>
<rect x="270.8" y="525.3" width="1.1" height="1.1" fill="#666"/>
<rect x="287.8" y="525.5" width="1" height="1.1" fill="#aaa"/>
<rect x="316" y="525.5" width="1" height="1.1" fill="#aaa"/>
<rect x="343" y="525.5" width="1" height="1.1" fill="#aaa"/>
<rect x="388.2" y="525.8" width="2.8" height="1.1" fill="#555"/>
<rect x="400.5" y="525.8" width="1.1" height="1.1" fill="#777"/>
<rect x="422.5" y="525.8" width="1.1" height="1.1" fill="#666"/>
<rect x="437.5" y="525.8" width="1" height="1.1" fill="#aaa"/>
<rect x="467" y="525.8" width="1.1" height="1.1" fill="#777"/>
<rect x="489.5" y="525.8" width="1.1" height="1.1" fill="#777"/>
<rect x="212" y="170.6" width="1" height="1.1" fill="#999"/>
</g>
</svg></body></html>
